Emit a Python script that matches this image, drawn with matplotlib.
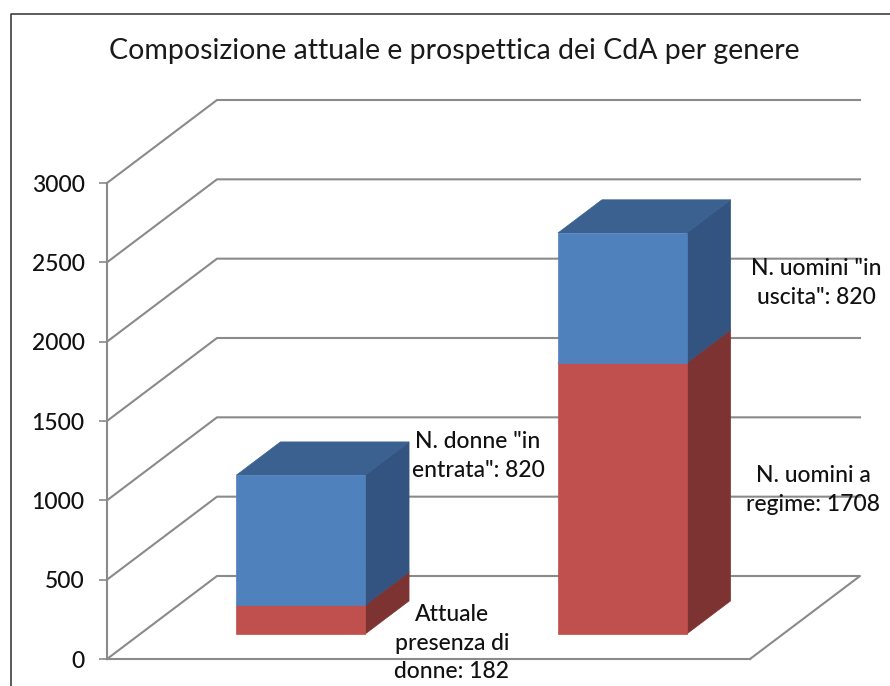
import matplotlib

matplotlib.use('Agg')
import matplotlib.pyplot as plt
from matplotlib.patches import Polygon

plt.rcParams['font.family'] = ['Lato', 'DejaVu Sans']

W, H = 890, 686

title = 'Composizione attuale e prospettica dei CdA per genere'
yticks = [0, 500, 1000, 1500, 2000, 2500, 3000]
positions = [0.5, 1.5]
red_values = [182, 1708]
blue_values = [820, 820]
labels = ['Attuale\npresenza di\ndonne: 182', 'N. donne "in\nentrata": 820',
          'N. uomini a\nregime: 1708', 'N. uomini "in\nuscita": 820']

# oblique depth of the floor, in axis units
depth_x = 110 / 643 * 2
depth_y = 83 / 476 * 3000
bar_w = 0.4
bar_front = 0.3
bar_back = 0.7


def proj(x, y, d):
    return x + d * depth_x, y + d * depth_y


def box(ax, x, y0, y1, front, side, top):
    xl, xr = x - bar_w / 2, x + bar_w / 2
    a = [proj(xl, y0, bar_front), proj(xr, y0, bar_front),
         proj(xr, y1, bar_front), proj(xl, y1, bar_front)]
    b = [proj(xr, y0, bar_front), proj(xr, y0, bar_back),
         proj(xr, y1, bar_back), proj(xr, y1, bar_front)]
    c = [proj(xl, y1, bar_front), proj(xr, y1, bar_front),
         proj(xr, y1, bar_back), proj(xl, y1, bar_back)]
    for pts, col in [(b, side), (c, top), (a, front)]:
        ax.add_patch(Polygon(pts, closed=True, fc=col, ec=col, lw=0.5,
                             clip_on=False, zorder=3))


fig = plt.figure(figsize=(W / 100, H / 100), dpi=100, facecolor='white')

# chart frame: left and top only, the rest is cropped off
fig.add_artist(plt.Line2D([10.5 / W, 10.5 / W, 1],
                          [0, 1 - 14 / H, 1 - 14 / H], color='#404040', lw=1.2))

ax = fig.add_axes([107 / W, 1 - 659 / H, 643 / W, 476 / H])
ax.set_xlim(0, 2)
ax.set_ylim(0, 3000)
ax.patch.set_visible(False)
for s in ['top', 'right']:
    ax.spines[s].set_visible(False)
ax.spines['left'].set_color('#8a8a8a')
ax.spines['bottom'].set_color('#8a8a8a')
ax.spines['left'].set_linewidth(1.5)
ax.spines['bottom'].set_linewidth(1.5)
ax.set_xticks([])
ax.set_yticks(yticks)
ax.tick_params(axis='y', length=6, color='#8a8a8a', width=1.2, pad=10,
               labelsize=16.5, labelcolor='#111111')
for t in ax.get_yticklabels():
    t.set_fontweight('medium')

# back wall gridlines and side wall slants
for v in yticks:
    xs = [0, proj(0, v, 1)[0], proj(2, v, 1)[0]]
    ys = [v, proj(0, v, 1)[1], proj(2, v, 1)[1]]
    if v == 0:
        xs.append(2)
        ys.append(0)
    ax.plot(xs, ys, color='#8a8a8a', lw=1.5, clip_on=False, zorder=1)

for x, r, b in zip(positions, red_values, blue_values):
    box(ax, x, 0, r, '#C0504D', '#7D3331', '#A03E3B')
    box(ax, x, r, r + b, '#4F81BD', '#335480', '#3A6190')

fig.text(454 / W, 1 - 51 / H, title, ha='center', va='center', fontsize=20.5,
         color='#1a1a1a')

# data labels sit by their bars, in figure pixels as in the original
label_pos = [(452, 643), (478, 456), (813, 490), (816, 283)]
for txt, (px, py) in zip(labels, label_pos):
    fig.text(px / W, 1 - py / H, txt, ha='center', va='center', fontsize=16.5,
             fontweight='medium', linespacing=1.45, color='#111111', zorder=5)

fig.savefig('out.png', dpi=100)
